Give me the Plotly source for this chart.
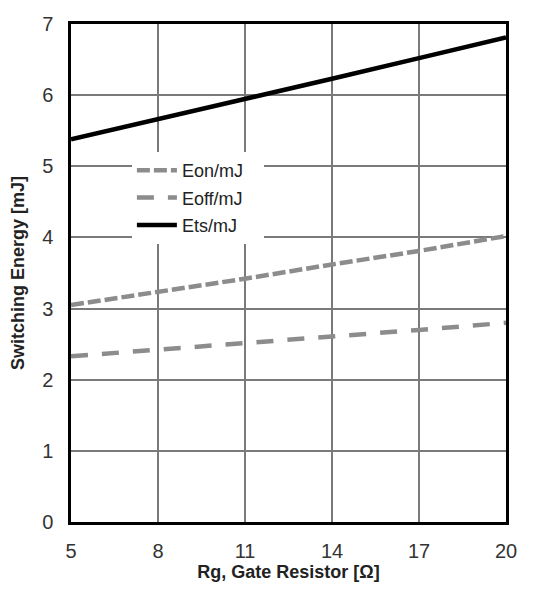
import plotly.graph_objects as go

rg = [5, 8, 11, 14, 17, 20]
eon = [3.05, 3.23, 3.42, 3.62, 3.81, 4.02]
eoff = [2.33, 2.42, 2.51, 2.61, 2.70, 2.80]
ets = [5.38, 5.66, 5.95, 6.23, 6.52, 6.81]
x_ticks = [5, 8, 11, 14, 17, 20]
y_ticks = [0, 1, 2, 3, 4, 5, 6, 7]
pad = "\u00a0\u00a0\u00a0"

fig = go.Figure()
fig.add_trace(go.Scatter(x=rg, y=eon, mode="lines", name="Eon/mJ" + pad, legendgroup="a",
                         line=dict(color="#8c8c8c", width=4.5, dash="13px,4px")))
fig.add_trace(go.Scatter(x=rg, y=eoff, mode="lines", name="Eoff/mJ" + pad, legendgroup="b",
                         line=dict(color="#8c8c8c", width=4.5, dash="17px,14px")))
fig.add_trace(go.Scatter(x=rg, y=ets, mode="lines", name="Ets/mJ" + pad, legendgroup="c",
                         line=dict(color="black", width=4.5)))

fig.update_layout(
    width=550, height=594,
    margin=dict(l=63, r=52, t=16, b=80),
    paper_bgcolor="white", plot_bgcolor="white",
    font=dict(family="Liberation Sans, Arial, sans-serif", color="#333", size=20),
    showlegend=True,
    legend=dict(x=0.14, y=0.743, xanchor="left", yanchor="top",
                bgcolor="white", font=dict(size=18, color="#222"),
                tracegroupgap=1, itemwidth=40),
)
fig.update_xaxes(range=[5, 20], tickvals=x_ticks, showgrid=True, gridcolor="#7a7a7a",
                 gridwidth=1.5, showline=True, linecolor="black", linewidth=2.5, mirror=True,
                 zeroline=False, ticks="outside", ticklen=9, tickcolor="white",
                 tickfont=dict(size=20, color="#333"), automargin=False,
                 title=dict(text="<b>Rg, Gate Resistor [Ω]</b>", font=dict(size=18, color="#222"), standoff=0))
fig.update_yaxes(range=[0, 7], tickvals=y_ticks, showgrid=True, gridcolor="#7a7a7a",
                 gridwidth=1.5, showline=True, linecolor="black", linewidth=2.5, mirror=True,
                 zeroline=False, ticks="outside", ticklen=11, tickcolor="white",
                 tickfont=dict(size=20, color="#333"), automargin=False,
                 title=dict(text="<b>Switching Energy [mJ]</b>", font=dict(size=18, color="#222"), standoff=16))

fig.write_html("out.html")
